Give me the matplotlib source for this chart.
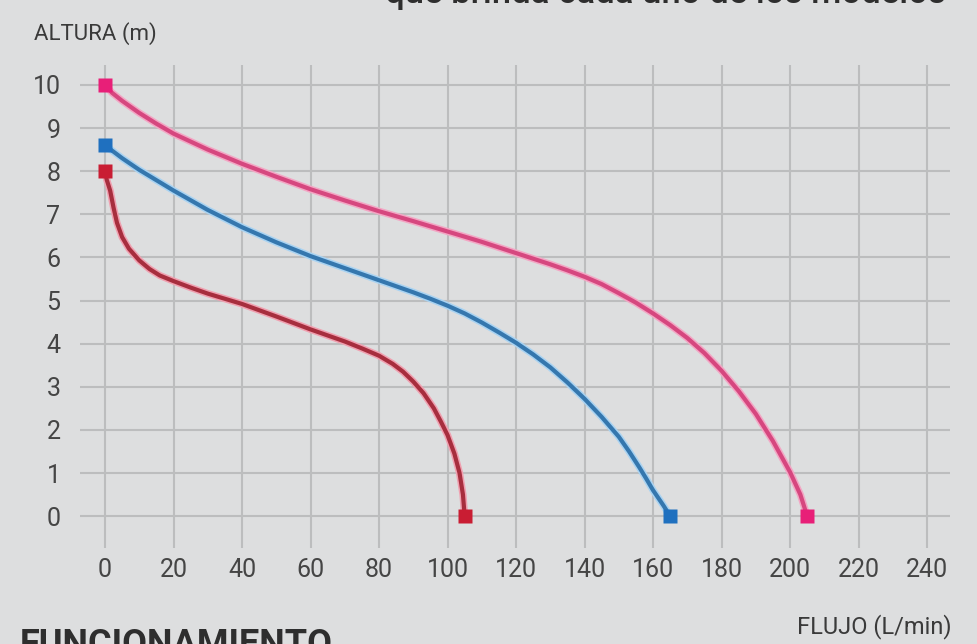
import matplotlib

matplotlib.use("Agg")
import matplotlib.pyplot as plt

# Curvas altura vs. flujo
pink_flow = [0, 2, 5, 10, 15, 20, 30, 40, 50, 60, 70, 80, 90, 100, 110, 120, 130, 135, 140, 145,
             150, 155, 160, 165, 170, 175, 180, 185, 190, 195, 200, 203, 205]
pink_head = [10, 9.82, 9.63, 9.35, 9.1, 8.87, 8.5, 8.17, 7.87, 7.58, 7.32, 7.07, 6.84, 6.6, 6.36,
             6.1, 5.84, 5.7, 5.55, 5.38, 5.17, 4.95, 4.7, 4.43, 4.13, 3.78, 3.37, 2.9, 2.37, 1.74,
             1.02, 0.5, 0]

blue_flow = [0, 5, 10, 20, 30, 40, 50, 60, 70, 80, 90, 95, 100, 105, 110, 115, 120, 125, 130,
             135, 140, 145, 150, 153, 156, 158, 160, 163, 165]
blue_head = [8.6, 8.3, 8.03, 7.55, 7.1, 6.7, 6.35, 6.03, 5.75, 5.47, 5.19, 5.04, 4.88, 4.7, 4.49,
             4.26, 4.02, 3.75, 3.45, 3.1, 2.72, 2.3, 1.84, 1.5, 1.13, 0.87, 0.6, 0.25, 0]

red_flow = [0, 0.5, 1.5, 2.5, 3.5, 5, 7, 10, 13, 16, 20, 25, 30, 40, 50, 60, 70, 75, 80, 84,
            87, 90, 93, 96, 98, 100, 102, 103.5, 104.5, 105]
red_head = [8, 7.8, 7.55, 7.15, 6.8, 6.47, 6.2, 5.93, 5.73, 5.58, 5.45, 5.3, 5.16, 4.92, 4.63,
            4.33, 4.05, 3.89, 3.72, 3.53, 3.35, 3.12, 2.85, 2.5, 2.2, 1.88, 1.45, 1.0, 0.5, 0]

x_ticks = list(range(0, 241, 20))
y_ticks = list(range(0, 11))

BG = "#dddedf"
plt.rcParams["font.family"] = ["Roboto", "DejaVu Sans"]

fig = plt.figure(figsize=(9.78, 6.44), dpi=100, facecolor=BG)
ax = fig.add_axes([0.0818, 0.149, 0.8896, 0.750], facecolor=BG)

series = [
    (pink_flow, pink_head, "#d6477f", "#f3a6c4", "#e81f78"),
    (blue_flow, blue_head, "#3577ae", "#a9d3f2", "#1f70bf"),
    (red_flow, red_head, "#a72e3e", "#f0a0b0", "#c91d33"),
]
for fx, hy, line_c, halo_c, mark_c in series:
    ax.plot(fx, hy, color=halo_c, lw=5.2, solid_capstyle="round", solid_joinstyle="round", zorder=2)
    ax.plot(fx, hy, color=line_c, lw=3, solid_capstyle="round", solid_joinstyle="round", zorder=3)
    ax.plot([fx[0], fx[-1]], [hy[0], hy[-1]], "s", color=mark_c, ms=10, mec="none", zorder=4)

ax.set_xlim(-7.3, 246.7)
ax.set_ylim(-0.74, 10.46)
ax.set_xticks(x_ticks)
ax.set_yticks(y_ticks)
ax.grid(True, color="#bcbdbe", lw=1.5)
ax.set_axisbelow(True)
for s in ax.spines.values():
    s.set_visible(False)
ax.tick_params(length=0, labelsize=18, labelcolor="#454545")
ax.tick_params(axis="y", pad=14)
ax.tick_params(axis="x", pad=7)

fig.text(34 / 978, 1 - 34 / 644, "ALTURA (m)", fontsize=16, color="#3a3a3a", va="center", ha="left")
fig.text(952 / 978, 1 - 627 / 644, "FLUJO (L/min)", fontsize=17, color="#3a3a3a", va="center", ha="right")
fig.text(946 / 978, 1 - 3 / 644, "que brinda cada uno de los modelos", fontsize=25, color="#2e2e2e",
         fontweight="medium", va="baseline", ha="right")
fig.text(20 / 978, 1 - 627 / 644, "FUNCIONAMIENTO", fontsize=26, fontweight="bold", color="#2e2e2e",
         va="top", ha="left")

fig.savefig("out.png", dpi=100, facecolor=BG)
